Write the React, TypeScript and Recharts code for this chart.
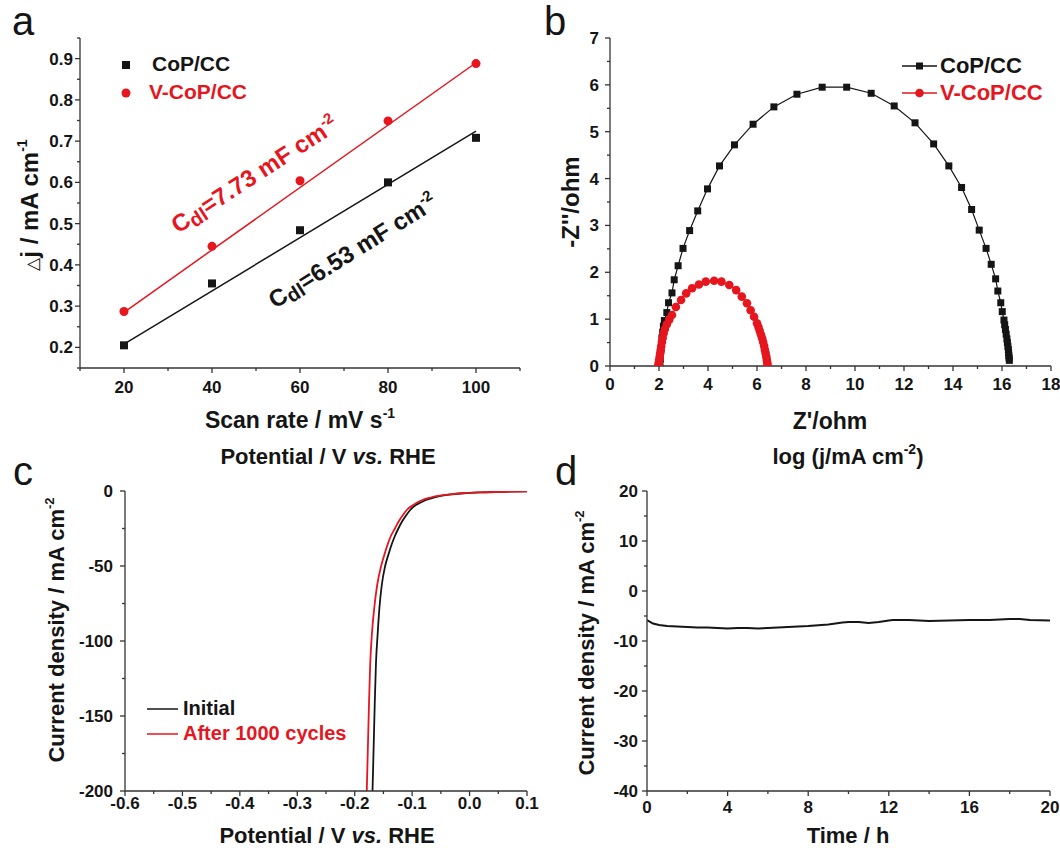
import React from 'react';
import { ComposedChart, Line, Scatter, XAxis, YAxis } from 'recharts';

const FONT = '"Liberation Sans", Arial, sans-serif';
const RED = '#e5161e';
const INK = '#151515';
const AXIS = '#333';

// (a) double-layer capacitance
const scanRate = [20, 40, 60, 80, 100];
const copDeltaJ = [0.205, 0.355, 0.484, 0.6, 0.708];
const vcopDeltaJ = [0.287, 0.445, 0.604, 0.749, 0.888];
const fitRate = [20, 100];
const copFit = [0.208, 0.724];
const vcopFit = [0.285, 0.89];
const aXTicks = [10, 20, 30, 40, 50, 60, 70, 80, 90, 100, 110];
const aXMajor = [20, 40, 60, 80, 100];
const aYTicks = [0.15, 0.2, 0.25, 0.3, 0.35, 0.4, 0.45, 0.5, 0.55, 0.6, 0.65, 0.7, 0.75, 0.8, 0.85, 0.9, 0.95];
const aYMajor = [0.2, 0.3, 0.4, 0.5, 0.6, 0.7, 0.8, 0.9];

// (b) Nyquist plots
const copZre = [2.04, 2.05, 2.06, 2.08, 2.1, 2.12, 2.15, 2.18, 2.22, 2.32, 2.39, 2.53, 2.62, 2.78, 2.98, 3.25, 3.58, 3.98, 4.47, 5.08, 5.84, 6.69, 7.63, 8.66, 9.66, 10.66, 11.6, 12.45, 13.21, 13.83, 14.35, 14.76, 15.07, 15.35, 15.56, 15.74, 15.83, 15.95, 16.01, 16.08, 16.11, 16.14, 16.17, 16.2, 16.22, 16.24, 16.26, 16.27, 16.28, 16.29, 16.3];
const copZim = [0.06, 0.15, 0.25, 0.36, 0.48, 0.6, 0.72, 0.85, 0.97, 1.14, 1.35, 1.56, 1.84, 2.14, 2.51, 2.89, 3.31, 3.78, 4.27, 4.72, 5.16, 5.53, 5.8, 5.95, 5.95, 5.82, 5.55, 5.19, 4.74, 4.27, 3.81, 3.34, 2.9, 2.51, 2.17, 1.86, 1.6, 1.35, 1.16, 0.98, 0.88, 0.78, 0.68, 0.58, 0.5, 0.42, 0.35, 0.28, 0.22, 0.17, 0.12];
const vcopZre = [1.97, 1.98, 2.0, 2.01, 2.03, 2.05, 2.07, 2.09, 2.12, 2.15, 2.19, 2.24, 2.32, 2.42, 2.53, 2.69, 2.9, 3.11, 3.35, 3.63, 3.91, 4.25, 4.55, 4.87, 5.15, 5.38, 5.59, 5.74, 5.88, 6.0, 6.06, 6.11, 6.16, 6.21, 6.25, 6.29, 6.32, 6.35, 6.38, 6.4, 6.42, 6.43];
const vcopZim = [0.0, 0.04, 0.09, 0.14, 0.2, 0.27, 0.34, 0.42, 0.51, 0.6, 0.7, 0.79, 0.89, 0.99, 1.09, 1.26, 1.41, 1.55, 1.66, 1.74, 1.8, 1.82, 1.8, 1.73, 1.62, 1.48, 1.34, 1.19, 1.05, 0.91, 0.83, 0.75, 0.67, 0.59, 0.51, 0.43, 0.35, 0.28, 0.2, 0.13, 0.07, 0.02];
const bXTicks = [0, 1, 2, 3, 4, 5, 6, 7, 8, 9, 10, 11, 12, 13, 14, 15, 16, 17, 18];
const bXMajor = [0, 2, 4, 6, 8, 10, 12, 14, 16, 18];
const bYTicks = [0, 0.5, 1, 1.5, 2, 2.5, 3, 3.5, 4, 4.5, 5, 5.5, 6, 6.5, 7];
const bYMajor = [0, 1, 2, 3, 4, 5, 6, 7];

// (c) polarization curves
const initialE = [-0.169, -0.167, -0.165, -0.163, -0.16, -0.157, -0.153, -0.147, -0.141, -0.136, -0.13, -0.124, -0.117, -0.11, -0.103, -0.096, -0.086, -0.076, -0.063, -0.05, -0.03, -0.01, 0.02, 0.06, 0.1];
const initialJ = [-200, -170, -140, -115, -95, -78, -63, -50, -42, -36, -30, -25, -20, -16, -12.5, -10, -7.8, -6, -4.5, -3.3, -2.2, -1.5, -0.9, -0.5, -0.3];
const cycledE = [-0.179, -0.177, -0.175, -0.173, -0.17, -0.166, -0.161, -0.154, -0.148, -0.143, -0.137, -0.13, -0.123, -0.116, -0.109, -0.101, -0.092, -0.082, -0.069, -0.055, -0.034, -0.014, 0.018, 0.058, 0.1];
const cycledJ = [-200, -170, -140, -115, -95, -78, -63, -50, -42, -36, -30, -25, -20, -16, -12.5, -10, -7.8, -6, -4.5, -3.3, -2.2, -1.5, -0.9, -0.5, -0.3];
const cXTicks = [-0.6, -0.55, -0.5, -0.45, -0.4, -0.35, -0.3, -0.25, -0.2, -0.15, -0.1, -0.05, 0, 0.05, 0.1];
const cXMajor = [-0.6, -0.5, -0.4, -0.3, -0.2, -0.1, 0, 0.1];
const cYTicks = [-200, -175, -150, -125, -100, -75, -50, -25, 0];
const cYMajor = [-200, -150, -100, -50, 0];

// (d) long-term stability
const timeH = [0, 0.3, 0.6, 1, 1.5, 2, 2.5, 3, 3.5, 4, 4.5, 5, 5.5, 6, 7, 8, 9, 9.7, 10, 10.5, 11, 11.5, 12, 12.2, 13, 14, 15, 16, 17, 18, 18.5, 19, 20];
const stabJ = [-5.8, -6.5, -6.8, -7.0, -7.1, -7.2, -7.3, -7.3, -7.4, -7.5, -7.4, -7.4, -7.5, -7.4, -7.2, -7.0, -6.7, -6.3, -6.2, -6.2, -6.4, -6.2, -5.9, -5.8, -5.8, -6.0, -5.9, -5.8, -5.8, -5.6, -5.6, -5.8, -5.9];
const dXTicks = [0, 2, 4, 6, 8, 10, 12, 14, 16, 18, 20];
const dXMajor = [0, 4, 8, 12, 16, 20];
const dYTicks = [-40, -35, -30, -25, -20, -15, -10, -5, 0, 5, 10, 15, 20];
const dYMajor = [-40, -30, -20, -10, 0, 10, 20];

const zip = (xs: number[], ys: number[]) => xs.map((x, i) => ({ x, y: ys[i] }));

const TICK_SIZE = 17;
const isIn = (list: number[], v: number) => list.some((m) => Math.abs(m - v) < 1e-6);

const xTick = (major: number[], fmt: (v: number) => string, dy: number) => (p: any) => {
  const v = p.payload.value;
  const big = isIn(major, v);
  return (
    <g>
      <line x1={p.x} x2={p.x} y1={p.y} y2={p.y + (big ? 5 : 3)} stroke={AXIS} strokeWidth={1.3} />
      {big && (
        <text
          x={p.x}
          y={p.y + dy}
          textAnchor="middle"
          fontFamily={FONT}
          fontWeight="bold"
          fontSize={TICK_SIZE}
          fill={INK}
          style={{ fontSize: TICK_SIZE, fontWeight: 700, fontFamily: FONT }}
        >
          {fmt(v)}
        </text>
      )}
    </g>
  );
};

const yTick = (major: number[], fmt: (v: number) => string, gap: number) => (p: any) => {
  const v = p.payload.value;
  const big = isIn(major, v);
  return (
    <g>
      <line x1={p.x} x2={p.x - (big ? 5 : 3)} y1={p.y} y2={p.y} stroke={AXIS} strokeWidth={1.3} />
      {big && (
        <text
          x={p.x - gap}
          y={p.y + 6}
          textAnchor="end"
          fontFamily={FONT}
          fontWeight="bold"
          fontSize={TICK_SIZE}
          fill={INK}
          style={{ fontSize: TICK_SIZE, fontWeight: 700, fontFamily: FONT }}
        >
          {fmt(v)}
        </text>
      )}
    </g>
  );
};

type PanelProps = {
  left: number;
  top: number;
  width: number;
  height: number;
  margin: { top: number; right: number; bottom: number; left: number };
  xDomain: [number, number];
  yDomain: [number, number];
  xTicks: number[];
  yTicks: number[];
  xMajor: number[];
  yMajor: number[];
  xFmt: (v: number) => string;
  yFmt: (v: number) => string;
  xDy: number;
  yGap: number;
  children: React.ReactNode;
};

const Panel = (p: PanelProps) => {
  const axisLine = { stroke: AXIS, strokeWidth: 1.3 };
  return (
    <div style={{ position: 'absolute', left: p.left, top: p.top }}>
      <ComposedChart width={p.width} height={p.height} margin={p.margin}>
        <XAxis
          dataKey="x"
          type="number"
          domain={p.xDomain}
          ticks={p.xTicks}
          interval={0}
          allowDataOverflow
          tickSize={0}
          tickMargin={0}
          tickLine={false}
          height={40}
          axisLine={axisLine}
          tick={xTick(p.xMajor, p.xFmt, p.xDy)}
        />
        <XAxis xAxisId="top" orientation="top" type="number" domain={p.xDomain} height={0} tick={false} tickLine={false} axisLine={axisLine} />
        <YAxis
          dataKey="y"
          type="number"
          domain={p.yDomain}
          ticks={p.yTicks}
          interval={0}
          allowDataOverflow
          tickSize={0}
          tickMargin={0}
          tickLine={false}
          width={60}
          axisLine={axisLine}
          tick={yTick(p.yMajor, p.yFmt, p.yGap)}
        />
        <YAxis yAxisId="right" orientation="right" type="number" domain={p.yDomain} width={0} tick={false} tickLine={false} axisLine={axisLine} />
        {p.children}
      </ComposedChart>
    </div>
  );
};

const square = (size: number, color: string) => (s: any) => (
  <rect x={s.cx - size / 2} y={s.cy - size / 2} width={size} height={size} fill={color} />
);
const dot = (r: number, color: string) => (s: any) => <circle cx={s.cx} cy={s.cy} r={r} fill={color} />;

const str = (v: number) => String(v);
const one = (v: number) => v.toFixed(1);

export default function App() {
  return (
    <div style={{ position: 'absolute', left: 0, top: 0, width: 1060, height: 851, background: '#fff', overflow: 'hidden' }}>
      <Panel
        left={0} top={0} width={530} height={420}
        margin={{ top: 38, right: 10, bottom: 12, left: 20 }}
        xDomain={[10, 110]} yDomain={[0.15, 0.95]}
        xTicks={aXTicks} yTicks={aYTicks} xMajor={aXMajor} yMajor={aYMajor}
        xFmt={str} yFmt={one} xDy={25} yGap={7}
      >
        <Line data={zip(fitRate, copFit)} dataKey="y" stroke={INK} strokeWidth={1.5} dot={false} isAnimationActive={false} />
        <Line data={zip(fitRate, vcopFit)} dataKey="y" stroke={RED} strokeWidth={1.5} dot={false} isAnimationActive={false} />
        <Scatter data={zip(scanRate, copDeltaJ)} dataKey="y" shape={square(8, INK)} isAnimationActive={false} />
        <Scatter data={zip(scanRate, vcopDeltaJ)} dataKey="y" shape={dot(4.5, RED)} isAnimationActive={false} />
      </Panel>

      <Panel
        left={530} top={0} width={530} height={420}
        margin={{ top: 38, right: 9, bottom: 14, left: 20 }}
        xDomain={[0, 18]} yDomain={[0, 7]}
        xTicks={bXTicks} yTicks={bYTicks} xMajor={bXMajor} yMajor={bYMajor}
        xFmt={str} yFmt={str} xDy={24} yGap={11}
      >
        <Scatter data={zip(copZre, copZim)} dataKey="y" line={{ stroke: INK, strokeWidth: 1.2 }} lineType="joint" shape={square(7, INK)} isAnimationActive={false} />
        <Scatter data={zip(vcopZre, vcopZim)} dataKey="y" line={{ stroke: RED, strokeWidth: 1.2 }} lineType="joint" shape={dot(4.3, RED)} isAnimationActive={false} />
      </Panel>

      <Panel
        left={0} top={420} width={560} height={431}
        margin={{ top: 71, right: 33, bottom: 20, left: 65 }}
        xDomain={[-0.6, 0.1]} yDomain={[-200, 0]}
        xTicks={cXTicks} yTicks={cYTicks} xMajor={cXMajor} yMajor={cYMajor}
        xFmt={one} yFmt={str} xDy={18} yGap={12}
      >
        <Line data={zip(initialE, initialJ)} dataKey="y" type="monotone" stroke={INK} strokeWidth={1.8} dot={false} isAnimationActive={false} />
        <Line data={zip(cycledE, cycledJ)} dataKey="y" type="monotone" stroke={RED} strokeWidth={1.8} dot={false} isAnimationActive={false} />
      </Panel>

      <Panel
        left={530} top={420} width={530} height={431}
        margin={{ top: 71, right: 10, bottom: 20, left: 57 }}
        xDomain={[0, 20]} yDomain={[-40, 20]}
        xTicks={dXTicks} yTicks={dYTicks} xMajor={dXMajor} yMajor={dYMajor}
        xFmt={str} yFmt={str} xDy={22} yGap={9}
      >
        <Line data={zip(timeH, stabJ)} dataKey="y" stroke={INK} strokeWidth={2} dot={false} isAnimationActive={false} />
      </Panel>

      <svg width={1060} height={851} style={{ position: 'absolute', left: 0, top: 0, pointerEvents: 'none' }} fontFamily={FONT}>
        {/* panel letters */}
        <g fontSize={40} fill={INK}>
          <text x={12} y={35}>a</text>
          <text x={544} y={35}>b</text>
          <text x={13} y={485}>c</text>
          <text x={555} y={485}>d</text>
        </g>

        <g fontWeight={700} fill={INK}>
          {/* axis titles */}
          <text x={300} y={428} fontSize={23} textAnchor="middle">
            Scan rate / mV s<tspan fontSize={14} dy={-10}>-1</tspan>
          </text>
          <text x={328} y={464} fontSize={22} textAnchor="middle">
            Potential / V <tspan fontStyle="italic">vs.</tspan> RHE
          </text>
          <text x={830} y={429} fontSize={23} textAnchor="middle">Z'/ohm</text>
          <text x={848} y={464} fontSize={22} textAnchor="middle">
            log (j/mA cm<tspan fontSize={14} dy={-10}>-2</tspan><tspan dy={10}>)</tspan>
          </text>
          <text x={327} y={843} fontSize={22} textAnchor="middle">
            Potential / V <tspan fontStyle="italic">vs.</tspan> RHE
          </text>
          <text x={848} y={843} fontSize={22} textAnchor="middle">Time / h</text>

          <text transform="translate(38,205) rotate(-90)" fontSize={24} textAnchor="middle">
            <tspan fontWeight={400} fontSize={17}>△</tspan>j / mA cm<tspan fontSize={14} dy={-11}>-1</tspan>
          </text>
          <text transform="translate(579,202) rotate(-90)" fontSize={24} textAnchor="middle">-Z''/ohm</text>
          <text transform="translate(64,630) rotate(-90)" fontSize={22} textAnchor="middle">
            Current density / mA cm<tspan fontSize={13} dy={-10}>-2</tspan>
          </text>
          <text transform="translate(594,643) rotate(-90)" fontSize={22} textAnchor="middle">
            Current density / mA cm<tspan fontSize={13} dy={-10}>-2</tspan>
          </text>

          {/* panel a legend and slopes */}
          <rect x={122} y={61} width={8} height={8} fill={INK} />
          <text x={152} y={71} fontSize={21}>CoP/CC</text>
          <circle cx={126} cy={93} r={4.5} fill={RED} />
          <text x={149} y={99} fontSize={21} fill={RED}>V-CoP/CC</text>
          <text transform="translate(178,234) rotate(-33)" fontSize={24} fill={RED}>
            C<tspan fontSize={20} dy={4}>dl</tspan><tspan dy={-4}>=7.73 mF cm</tspan><tspan fontSize={15} dy={-10}>-2</tspan>
          </text>
          <text transform="translate(275,309) rotate(-32)" fontSize={24} fill={INK}>
            C<tspan fontSize={20} dy={4}>dl</tspan><tspan dy={-4}>=6.53 mF cm</tspan><tspan fontSize={15} dy={-10}>-2</tspan>
          </text>

          {/* panel b legend */}
          <line x1={902} x2={937} y1={66} y2={66} stroke={INK} strokeWidth={1.5} />
          <rect x={916} y={62.5} width={7} height={7} fill={INK} />
          <text x={940} y={73} fontSize={22}>CoP/CC</text>
          <line x1={902} x2={937} y1={93} y2={93} stroke={RED} strokeWidth={1.5} />
          <circle cx={919.5} cy={93} r={4.3} fill={RED} />
          <text x={940} y={100} fontSize={22} fill={RED}>V-CoP/CC</text>

          {/* panel c legend */}
          <line x1={147} x2={178} y1={709} y2={709} stroke={INK} strokeWidth={1.5} />
          <text x={183} y={715} fontSize={20}>Initial</text>
          <line x1={147} x2={178} y1={734} y2={734} stroke={RED} strokeWidth={1.5} />
          <text x={183} y={740} fontSize={20} fill={RED}>After 1000 cycles</text>
        </g>
      </svg>
    </div>
  );
}
